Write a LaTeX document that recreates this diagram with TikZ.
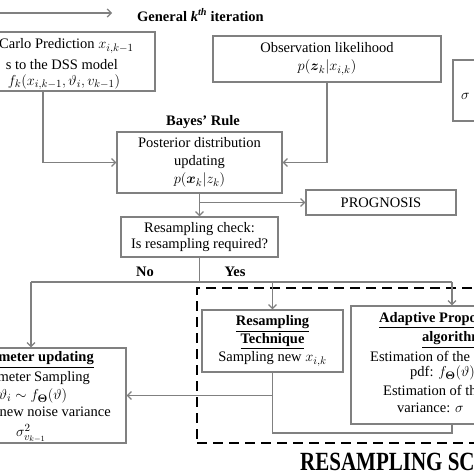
\documentclass[tikz,border=0pt]{standalone}
\usepackage{amsmath}
\usepackage{fontspec}
\setmainfont{Liberation Serif}
\usetikzlibrary{arrows.meta}
\newcommand{\myfs}{\fontsize{14.5}{18}\selectfont}
\newcommand{\mth}[1]{{\fontsize{15.5}{18}\selectfont$#1$}}
\definecolor{lgray}{RGB}{128,128,128}
\begin{document}
\begin{tikzpicture}[x=1pt,y=-1pt,
 box/.style={draw=lgray,line width=1.2pt,inner sep=0pt,align=center,font=\myfs},
 conn/.style={draw=lgray,line width=1.2pt},
 arr/.style={conn,-{Straight Barb[length=4pt,width=8pt]}},
 txt/.style={inner sep=0pt,font=\myfs},
 ]
\useasboundingbox (0,0) rectangle (474,474);
\fill[white] (0,0) rectangle (474,474);

% top iteration arrow
\coordinate (t0) at (0,13);
\coordinate (t1) at (112,13);
\draw[arr] (t0) -- (t1);
\node[txt,anchor=west,font=\myfs\bfseries] (gen) at (137,15) {General \textit{k}\textsuperscript{\textit{th}} iteration};

% Monte Carlo prediction box
\node[box,minimum width=215pt,minimum height=59pt] (mc) at (47.5,61.5) {};
\node[txt,anchor=west] (mc1) at (-1,46) {Carlo Prediction \mth{x_{i,k-1}}};
\node[txt,anchor=east] (mc2) at (118,65) {s to the DSS model};
\node[txt] (mc3) at (64,82) {\mth{f_k(x_{i,k-1},\vartheta_i,v_{k-1})}};

% observation box
\node[box,minimum width=228pt,minimum height=46pt] (obs) at (327,59) {Observation likelihood\\\mth{p(\boldsymbol{z}_k|x_{i,k})}};

% right partial box
\node[box,minimum width=60pt,minimum height=61pt] (rb) at (483,90.5) {};
\node[txt,anchor=west] (rbt) at (461,96) {\mth{\sigma}};

% Bayes
\node[txt,font=\myfs\bfseries] (bayes) at (203,122) {Bayes' Rule};
\node[box,minimum width=165pt,minimum height=61pt] (post) at (199.5,162.5) {Posterior distribution\\updating\\\mth{p(\boldsymbol{x}_k|z_k)}};

\node[box,minimum width=150pt,minimum height=25pt] (prog) at (381,202.5) {PROGNOSIS};
\node[box,minimum width=157pt,minimum height=40pt,font=\fontsize{14.5}{16}\selectfont] (rc) at (199.5,237) {Resampling check:\\Is resampling required?};

\node[txt,font=\myfs\bfseries] (no) at (145,272) {No};
\node[txt,font=\myfs\bfseries] (yes) at (235,272) {Yes};

% dashed resampling scheme box
\node[draw=black,dash pattern=on 10pt off 6pt,line width=2.5pt,minimum width=300pt,minimum height=155pt,inner sep=0pt] (rs) at (347,365.5) {};
\node[txt,anchor=west,font=\fontsize{21}{24}\selectfont\bfseries] (rstitle) at (300,462) {\scalebox{1}[1.25]{RESAMPLING SCHEME}};

% resampling technique
\node[box,minimum width=141pt,minimum height=62pt] (rt) at (272.5,341) {\underline{\textbf{Resampling}}\\\underline{\textbf{Technique}}\\Sampling new \mth{x_{i,k}}};

% adaptive proposal box
\node[box,minimum width=250pt,minimum height=118pt] (ad) at (476,365) {};
\node[txt,anchor=west,font=\myfs\bfseries] (ad1) at (379,320) {\underline{Adaptive Propo}};
\node[txt,anchor=west,font=\myfs\bfseries] (ad2) at (422,340) {\underline{algorithm}};
\node[txt,anchor=west] (ad3) at (370,356) {Estimation of the};
\node[txt,anchor=west] (ad4) at (410,373) {pdf: \mth{f_{\boldsymbol{\Theta}}(\vartheta)}};
\node[txt,anchor=west] (ad5) at (383,390) {Estimation of the};
\node[txt,anchor=west] (ad6) at (397,408) {variance: \mth{\sigma}};

% parameter updating box
\node[box,minimum width=200pt,minimum height=95pt] (pu) at (26,395.5) {};
\node[txt,anchor=east,font=\myfs\bfseries] (pu1) at (94,360) {\underline{meter updating}};
\node[txt,anchor=east] (pu2) at (90,378) {meter Sampling};
\node[txt] (pu3) at (33,396) {\mth{\vartheta_i\sim f_{\boldsymbol{\Theta}}(\vartheta)}};
\node[txt,anchor=east] (pu4) at (111,412) {new noise variance};
\node[txt] (pu5) at (31,433.5) {\mth{\sigma^2_{v_{k-1}}}};

% connectors
\draw[arr] ([xshift=-4.5pt]mc.south) |- (post.west);
\draw[arr] (obs.south) |- (post.east);
\draw[arr] (post.south) -- (rc.north);
\draw[arr] (post.south |- prog.west) -- (prog.west);
\coordinate (split) at (199.5,282);
\coordinate (nL) at (31,282);
\coordinate (yR) at (452,282);
\coordinate (bR) at (452,433);
\draw[conn] (rc.south) -- (split);
\draw[conn] (nL) -- (yR);
\draw[arr] (nL) -- (nL |- pu.north);
\draw[arr] (split -| rt.north) -- (rt.north);
\draw[arr] (yR) -- (yR |- ad.north);
\draw[conn] (bR |- ad.south) -- (bR) -| (rt.south);
\draw[arr] (rt.south |- pu.east) -- (pu.east);
\end{tikzpicture}
\end{document}
